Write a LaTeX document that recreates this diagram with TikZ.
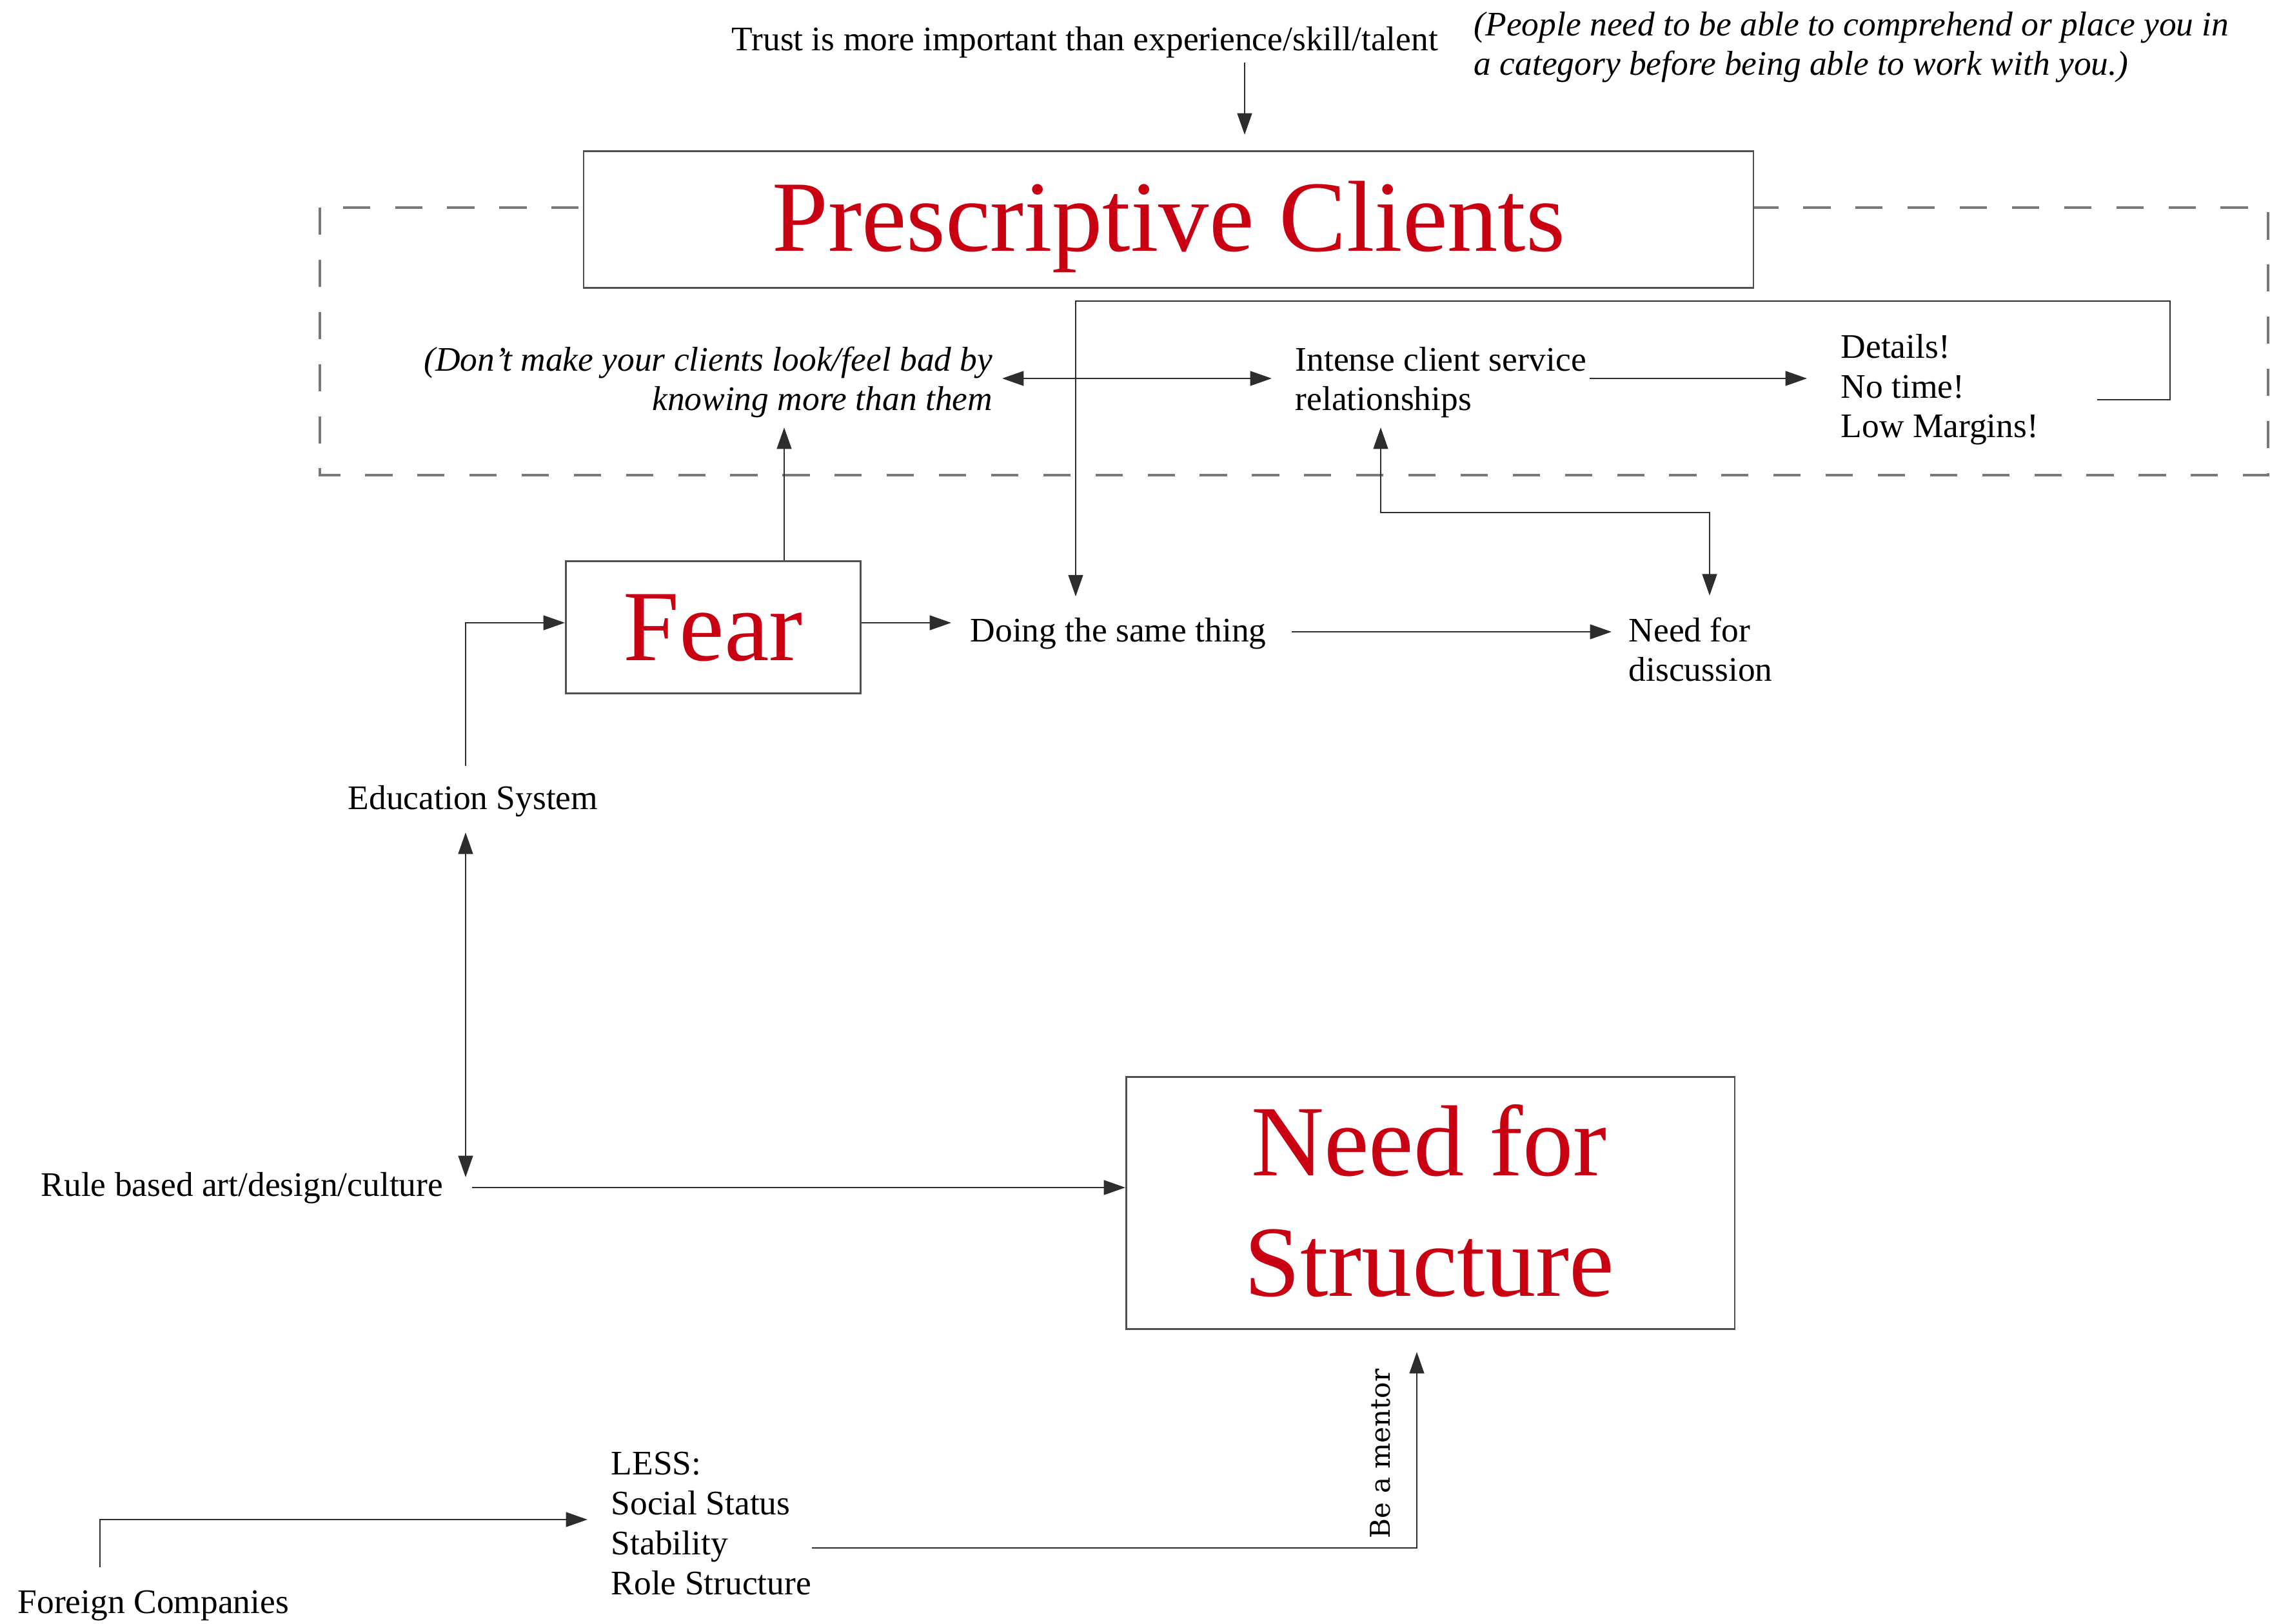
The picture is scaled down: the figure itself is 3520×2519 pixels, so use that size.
\documentclass[tikz,border=0pt]{standalone}
\usepackage{fontspec}
\setmainfont{Liberation Serif}
\newfontfamily\mentorfont{DejaVu Serif}
\usetikzlibrary{arrows.meta}
\definecolor{pcred}{RGB}{200,0,18}
\definecolor{linegray}{RGB}{45,45,45}
\definecolor{dashgray}{RGB}{120,120,120}
\definecolor{boxgray}{RGB}{80,80,80}
\tikzset{
  lbl/.style={inner sep=0pt, font=\fontsize{15.2}{17.6}\selectfont, align=left},
  ilbl/.style={inner sep=0pt, font=\fontsize{15.2}{17.6}\selectfont\itshape, align=left},
  bigred/.style={inner sep=0pt, text=pcred, font=\fontsize{44.5}{53}\selectfont},
  bigbox/.style={draw=boxgray, line width=0.8pt, fill=white, inner sep=0pt},
  conn/.style={draw=linegray, line width=0.6pt},
  arr/.style={conn, -{Triangle[length=9.5pt,width=6.5pt]}},
  darr/.style={conn, {Triangle[length=9.5pt,width=6.5pt]}-{Triangle[length=9.5pt,width=6.5pt]}},
  dashframe/.style={draw=dashgray, line width=0.9pt, dash pattern=on 12pt off 11pt},
}
\begin{document}
\begin{tikzpicture}[x=0.01cm,y=-0.01cm]
\useasboundingbox[fill=white] (0,0) rectangle (3520,2519);

% dashed frame
\draw[dashframe] (496,322) rectangle (3517,737);

% boxes
\node[bigbox, bigred, minimum width=18.13cm, text height=1.55cm, text depth=0.57cm, anchor=north] (pc) at (1812,233) {Prescriptive Clients};
\node[bigbox, bigred, minimum width=4.57cm, text height=1.54cm, text depth=0.51cm, anchor=north] (fear) at (1106,869) {Fear};
\node[bigbox, minimum width=9.43cm, minimum height=3.91cm, anchor=north west] (nfs) at (1745,1669) {};
\node[bigred, anchor=base] (nfsa) at (2216,1823) {Need for};
\node[bigred, anchor=base] (nfsb) at (2216,2010) {Structure};

% texts (multi-line nodes: base = baseline of last line)
\node[lbl, anchor=base west] (trust) at (1134,79) {Trust is more important than experience/skill/talent};
\node[ilbl, anchor=base west] (people) at (2285,117) {(People need to be able to comprehend or place you in\\a category before being able to work with you.)};
\node[ilbl, align=right, anchor=base east] (dont) at (1540,637) {(Don't make your clients look/feel bad by\\knowing more than them};
\node[lbl, anchor=base west] (intense) at (2008,637) {Intense client service\\relationships};
\node[lbl, anchor=base west] (details) at (2854,679) {Details!\\No time!\\Low Margins!};
\node[lbl, anchor=base west] (doing) at (1504,996) {Doing the same thing};
\node[lbl, anchor=base west] (needdisc) at (2525,1057) {Need for\\discussion};
\node[lbl, anchor=base west] (edu) at (539,1256) {Education System};
\node[lbl, anchor=base west] (rule) at (63,1855) {Rule based art/design/culture};
\node[lbl, anchor=base west] (less) at (947,2473) {LESS:\\Social Status\\Stability\\Role Structure};
\node[lbl, anchor=base west] (foreign) at (27,2502) {Foreign Companies};
\node[inner sep=0pt, font=\mentorfont\fontsize{12}{14}\selectfont, rotate=90, anchor=base west] (mentor) at (2155,2387) {Be a mentor};

% helper coordinates
\coordinate (k0) at (1930,0);
\coordinate (r1) at (0,587);
\coordinate (loopA) at (3252,620);
\coordinate (loopB) at (1668,467);
\coordinate (k1) at (1216,0);
\coordinate (k2) at (2141,0);
\coordinate (k3) at (2651,795);
\coordinate (r3) at (0,966);
\coordinate (r4) at (0,980);
\coordinate (k4) at (722,0);
\coordinate (r5) at (0,1826);
\coordinate (r6) at (0,1842);
\coordinate (r7) at (0,2401);
\coordinate (k5) at (2197,0);
\coordinate (k6) at (155,0);
\coordinate (r8) at (0,2357);

% connectors
\draw[arr, shorten <=0.06cm, shorten >=0.24cm] (trust.south -| k0) -- (pc.north -| k0);
\draw[darr, shorten <=0.14cm, shorten >=0.36cm] (dont.east |- r1) -- (intense.west |- r1);
\draw[arr, shorten <=0.04cm, shorten >=0.52cm] (intense.east |- r1) -- (details.west |- r1);
\draw[arr, shorten >=0.33cm] (loopA) -- ++(113,0) |- (loopB) -- (loopB |- doing.north);
\draw[arr, shorten >=0.14cm] (fear.north -| k1) -- (dont.south -| k1);
\draw[darr, shorten <=0.14cm, shorten >=0.33cm] (intense.south -| k2) |- (k3) -- (k3 |- needdisc.north);
\draw[arr, shorten >=0.29cm] (fear.east |- r3) -- (doing.west |- r3);
\draw[arr, shorten <=0.39cm, shorten >=0.26cm] (doing.east |- r4) -- (needdisc.west |- r4);
\draw[arr, shorten <=0.3cm] (edu.north -| k4) |- (fear.west |- r3);
\draw[darr, shorten <=0.23cm] (edu.south -| k4) -- (k4 |- r5);
\draw[arr, shorten <=0.44cm] (rule.east |- r6) -- (nfs.west |- r6);
\draw[arr, shorten >=0.34cm] (less.east |- r7) -| (k5 |- nfs.south);
\draw[arr, shorten <=0.35cm, shorten >=0.36cm] (foreign.north -| k6) |- (less.west |- r8);
\end{tikzpicture}
\end{document}
